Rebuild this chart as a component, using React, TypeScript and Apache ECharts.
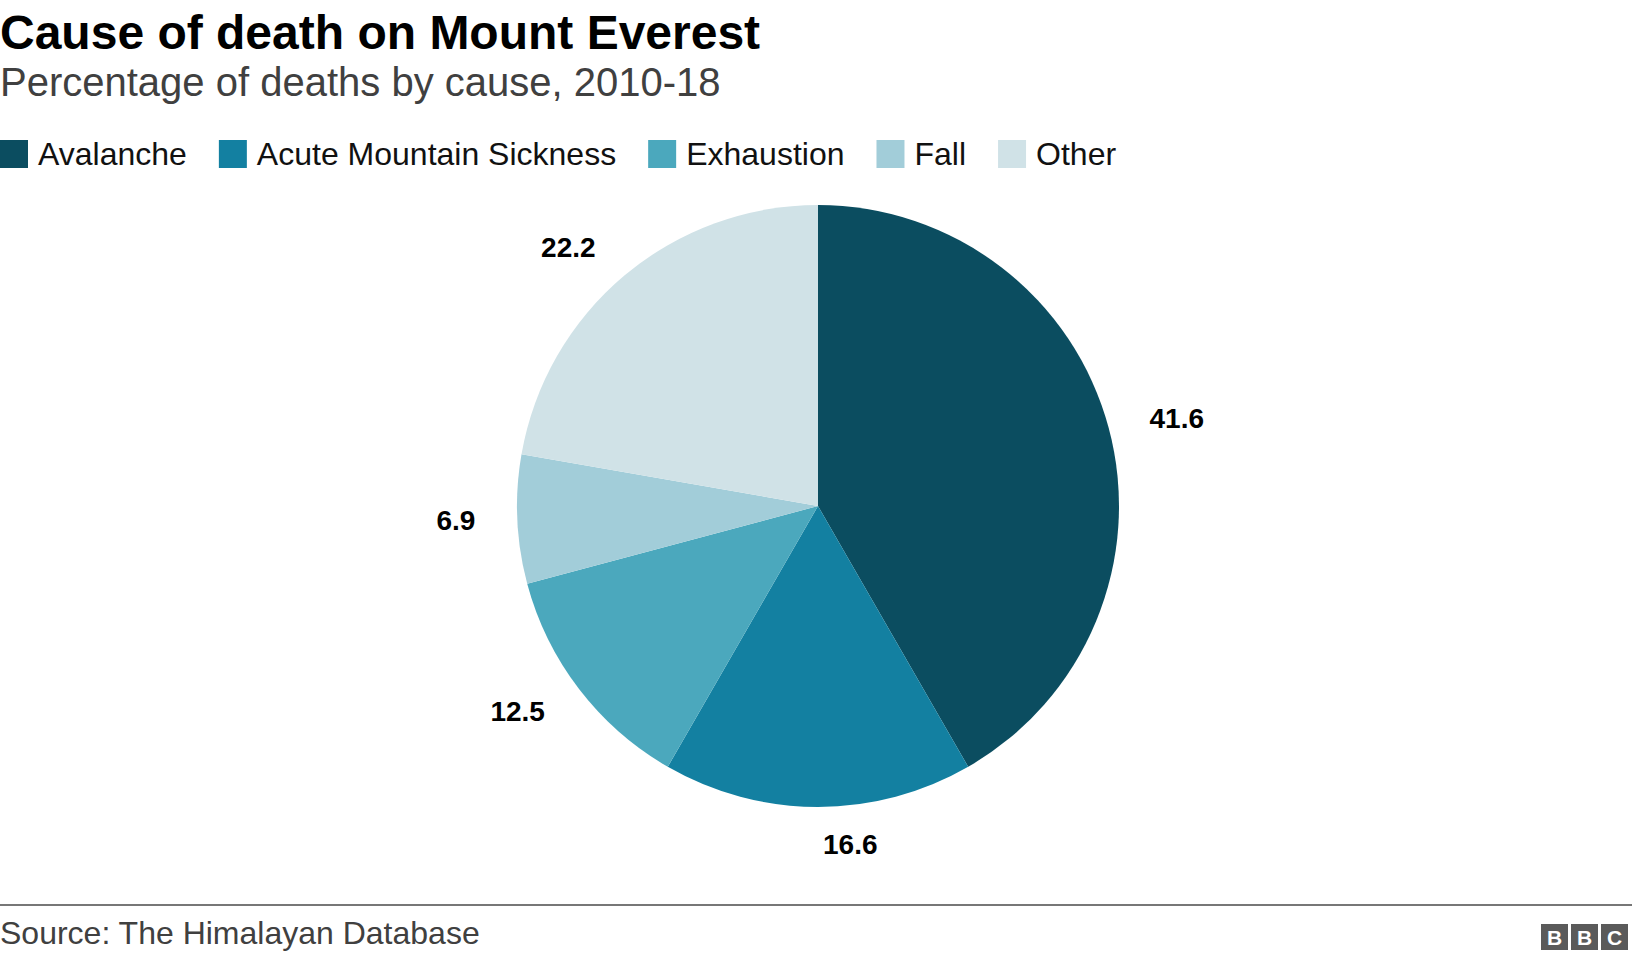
import React, { useEffect, useRef } from "react";
import * as echarts from "echarts";

const categories = ["Avalanche", "Acute Mountain Sickness", "Exhaustion", "Fall", "Other"];
const shares = [41.6, 16.6, 12.5, 6.9, 22.2];
const colors = ["#0b4d60", "#1380a1", "#4ba8bd", "#a2cdd9", "#d0e2e7"];
const titleText = "Cause of death on Mount Everest";
const subtitleText = "Percentage of deaths by cause, 2010-18";
const sourceText = "Source: The Himalayan Database";
const logoLetters = ["B", "B", "C"];

const FONT = "'Liberation Sans', Arial, Helvetica, sans-serif";

export default function App() {
  const ref = useRef<HTMLDivElement>(null);
  useEffect(() => {
    const chart = echarts.init(ref.current!, null, { renderer: "svg" });
    const logo: any[] = [];
    logoLetters.forEach((l, i) => {
      const x = 1541 + i * 30;
      logo.push({
        type: "rect",
        shape: { x, y: 924, width: 27, height: 26 },
        style: { fill: "#5a5a5a" },
        silent: true,
      });
      logo.push({
        type: "text",
        x: x + 13.5,
        y: 937,
        style: {
          text: l,
          fill: "#fff",
          font: `bold 21px ${FONT}`,
          align: "center",
          verticalAlign: "middle",
        },
        silent: true,
      });
    });
    chart.setOption({
      animation: false,
      backgroundColor: "#ffffff",
      title: [
        {
          text: titleText,
          left: 0,
          top: 8,
          padding: 0,
          textStyle: { fontSize: 48, fontWeight: "bold", color: "#000", fontFamily: FONT },
        },
        {
          text: subtitleText,
          left: 0,
          top: 62,
          padding: 0,
          textStyle: { fontSize: 40, fontWeight: "normal", color: "#404040", fontFamily: FONT },
        },
        {
          text: sourceText,
          left: 0,
          top: 917,
          padding: 0,
          textStyle: { fontSize: 32, fontWeight: "normal", color: "#404040", fontFamily: FONT },
        },
      ],
      legend: {
        data: categories,
        left: 0,
        top: 138,
        padding: 0,
        icon: "rect",
        itemWidth: 28,
        itemHeight: 28,
        itemGap: 32,
        selectedMode: false,
        textStyle: { fontSize: 32, color: "#111", fontFamily: FONT, padding: [0, 0, 0, 5] },
      },
      graphic: [
        {
          type: "line",
          shape: { x1: 0, y1: 905, x2: 1632, y2: 905 },
          style: { stroke: "#777", lineWidth: 2 },
          silent: true,
        },
        ...logo,
      ],
      series: [
        {
          type: "pie",
          center: [818, 506],
          radius: 301,
          startAngle: 90,
          clockwise: true,
          avoidLabelOverlap: false,
          silent: true,
          emphasis: { disabled: true },
          color: colors,
          itemStyle: { borderWidth: 0 },
          label: {
            show: true,
            position: "outside",
            formatter: "{c}",
            fontSize: 28,
            fontWeight: "bold",
            color: "#000",
            fontFamily: FONT,
          },
          labelLine: { show: false, length: 37, length2: 0 },
          data: categories.map((name, i) => ({ name, value: shares[i] })),
        },
      ],
    });
    return () => chart.dispose();
  }, []);
  return (
    <div
      ref={ref}
      style={{ position: "fixed", left: 0, top: 0, width: 1632, height: 960, background: "#fff" }}
    />
  );
}
